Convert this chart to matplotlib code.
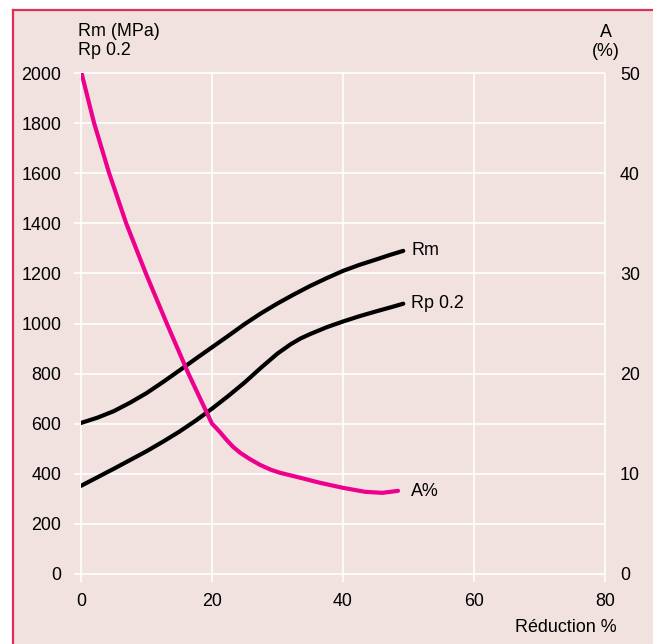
import matplotlib
matplotlib.use("Agg")
from matplotlib import pyplot as plt
from matplotlib.patches import Rectangle
from matplotlib.lines import Line2D

plt.rcParams["font.family"] = ["Liberation Sans", "DejaVu Sans"]
plt.rcParams["font.size"] = 12.9

# curves
rm_x = [0, 2.5, 5, 7.5, 10, 12.5, 15, 17.5, 20, 22.5, 25, 27.5, 30, 32.5,
        35, 37.5, 40, 42.5, 45, 47.2, 49.2]
rm = [603, 624, 650, 684, 722, 766, 812, 859, 905, 951, 998, 1041, 1080,
      1116, 1150, 1181, 1210, 1234, 1255, 1274, 1290]

rp_x = [0, 2.5, 5, 7.5, 10, 12.5, 15, 17.5, 20, 22.5, 25, 27.5, 30, 32,
        33.5, 35, 37.5, 40, 42.5, 45, 47.2, 49.2]
rp = [352, 386, 420, 455, 490, 528, 568, 612, 660, 711, 765, 824, 880, 917,
      940, 958, 985, 1008, 1029, 1048, 1064, 1079]

a_x = [0, 2.0, 4.3, 6.9, 9.9, 13.1, 16.4, 20.0, 20.6, 21.3, 22.2, 23.2,
       24.3, 25.7, 27.3, 29.0, 30.4, 33.5, 36.5, 40, 43.4, 46, 48.4]
a = [50.2, 45.0, 40.0, 35.0, 30.0, 25.0, 20.0, 15.0, 14.6, 14.1, 13.4, 12.7,
     12.1, 11.5, 10.9, 10.4, 10.1, 9.6, 9.1, 8.6, 8.2, 8.1, 8.3]

x_ticks = [0, 20, 40, 60, 80]
y_ticks = list(range(0, 2001, 200))
a_ticks = [0, 10, 20, 30, 40, 50]

W, H = 653, 644
bg = "#f2e2df"
pink = "#ec008c"
border = "#dc2f5a"

fig = plt.figure(figsize=(W / 100, H / 100), dpi=100, facecolor="white")

# pink panel with left/top border
fig.patches.append(Rectangle((13 / W, 0), 1 - 13 / W, 1 - 10 / H,
                             transform=fig.transFigure, facecolor=bg,
                             edgecolor="none", zorder=-10))
fig.lines.append(Line2D([13 / W, 13 / W], [0, 1 - 10 / H], transform=fig.transFigure,
                        color=border, lw=1.6, zorder=-9))
fig.lines.append(Line2D([13 / W, 1], [1 - 10 / H, 1 - 10 / H], transform=fig.transFigure,
                        color=border, lw=1.6, zorder=-9))

ax = fig.add_axes([81 / W, (H - 574) / H, (605 - 81) / W, (574 - 73) / H])
ax.set_facecolor("none")
for s in ax.spines.values():
    s.set_visible(False)
ax.set_xlim(0, 80)
ax.set_ylim(0, 2000)

# white grid, slightly overhanging left and bottom
ax.hlines(y_ticks, -1.1, 80, colors="white", lw=1.2, clip_on=False, zorder=1)
ax.vlines(x_ticks, -33, 2000, colors="white", lw=1.2, clip_on=False, zorder=1)

ax.set_xticks(x_ticks)
ax.set_yticks(y_ticks)
ax.tick_params(axis="both", length=0)
ax.tick_params(axis="y", pad=14.2)
ax.tick_params(axis="x", pad=13.5)

ax.plot(rm_x, rm, color="black", lw=3, solid_capstyle="round", zorder=3)
ax.plot(rp_x, rp, color="black", lw=3, solid_capstyle="round", zorder=3)

ax2 = ax.twinx()
ax2.set_ylim(0, 50)
for s in ax2.spines.values():
    s.set_visible(False)
ax2.set_yticks(a_ticks)
ax2.tick_params(axis="y", length=0, pad=10.8)
ax2.plot(a_x, a, color=pink, lw=3, solid_capstyle="round", zorder=3)

ax.text(50.4, 1292, "Rm", va="center", ha="left")
ax.text(50.4, 1079, "Rp 0.2", va="center", ha="left")
ax2.text(50.4, 8.2, "A%", va="center", ha="left")

fig.text(78 / W, 1 - 41 / H, "Rm (MPa)\nRp 0.2", ha="left", va="center")
fig.text(606 / W, 1 - 42 / H, "A\n(%)", ha="center", va="center", linespacing=1.1)
fig.text(617 / W, 1 - 627 / H, "Réduction %", ha="right", va="center")

fig.savefig("out.png", dpi=100, facecolor="white")
